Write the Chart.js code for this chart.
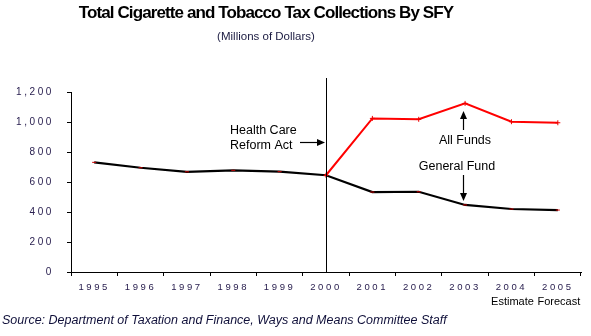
<!DOCTYPE html>
<html>
<head>
<meta charset="utf-8">
<script src="https://cdn.jsdelivr.net/npm/chart.js@4"></script>
<style>
  html, body { margin: 0; padding: 0; background: #fff; }
  #wrap { width: 591px; height: 336px; position: relative; }
</style>
</head>
<body>
<div id="wrap"><canvas id="myChart" width="591" height="336"></canvas></div>
<script>
const years = ['1995', '1996', '1997', '1998', '1999', '2000', '2001', '2002', '2003', '2004', '2005'];
const generalFund = [731, 695, 668, 678, 669, 645, 533, 535, 447, 420, 413];
const allFunds = [null, null, null, null, null, 645, 1024, 1018, 1124, 1002, 995];
const yTicks = [0, 200, 400, 600, 800, 1000, 1200];
const yearNotes = { '2004': 'Estimate', '2005': 'Forecast' };

const FONT = '"Liberation Sans", Arial, sans-serif';

function arrow(ctx, x1, y1, x2, y2) {
    const a = Math.atan2(y2 - y1, x2 - x1), len = 8, w = 3.5;
    const bx = x2 - len * Math.cos(a), by = y2 - len * Math.sin(a);
    ctx.beginPath();
    ctx.moveTo(x1, y1);
    ctx.lineTo(bx, by);
    ctx.stroke();
    ctx.beginPath();
    ctx.moveTo(x2, y2);
    ctx.lineTo(bx - w * Math.sin(a), by + w * Math.cos(a));
    ctx.lineTo(bx + w * Math.sin(a), by - w * Math.cos(a));
    ctx.closePath();
    ctx.fill();
}

function text(ctx, str, x, y, font, align, spacing, color) {
    ctx.font = font;
    ctx.letterSpacing = spacing;
    ctx.textAlign = align;
    ctx.textBaseline = 'middle';
    ctx.fillStyle = color || '#000';
    ctx.fillText(str, x, y);
}

// spaced-out digits on both axes
const tickSpacing = {
    id: 'tickSpacing',
    beforeDraw(chart) { chart.ctx.letterSpacing = '2.6px'; }
};

const extras = {
    id: 'extras',
    afterDraw(chart) {
        const ctx = chart.ctx, x = chart.scales.x, area = chart.chartArea;
        ctx.save();

        // Health Care Reform Act marker at SFY 2000
        const x2000 = x.getPixelForValue(years.indexOf('2000'));
        ctx.strokeStyle = '#000';
        ctx.lineWidth = 1;
        ctx.beginPath();
        ctx.moveTo(Math.round(x2000) + 0.5, area.top - 14);
        ctx.lineTo(Math.round(x2000) + 0.5, area.bottom);
        ctx.stroke();

        text(ctx, 'Total Cigarette and Tobacco Tax Collections By SFY', 266, 13, 'bold 17px ' + FONT, 'center', '-0.9px');
        text(ctx, '(Millions of Dollars)', 266, 37, '11.5px ' + FONT, 'center', '0px', '#1a1a40');

        // year notes under the last two categories
        Object.keys(yearNotes).forEach(k => {
            text(ctx, yearNotes[k], x.getPixelForValue(years.indexOf(k)) + 1, 302, '11px ' + FONT, 'center', '0px');
        });

        text(ctx, 'Source: Department of Taxation and Finance, Ways and Means Committee Staff',
            2, 321, 'italic 12.5px ' + FONT, 'left', '0px', '#10103a');

        // annotations
        text(ctx, 'Health Care', 230, 131, '12.5px ' + FONT, 'left', '0px');
        text(ctx, 'Reform Act', 230, 146, '12.5px ' + FONT, 'left', '0px');
        text(ctx, 'All Funds', 465, 141, '12.5px ' + FONT, 'center', '0px');
        text(ctx, 'General Fund', 457, 167, '12.5px ' + FONT, 'center', '0px');

        ctx.fillStyle = '#000';
        ctx.lineWidth = 1.2;
        arrow(ctx, 300, 142.5, x2000 - 1, 142.5);
        arrow(ctx, 463.5, 130, 463.5, 111);
        arrow(ctx, 463.5, 175, 463.5, 201);

        ctx.restore();
    }
};

const ctx = document.getElementById('myChart');
new Chart(ctx, {
    type: 'line',
    data: {
        labels: years,
        datasets: [{
            label: 'All Funds',
            data: allFunds,
            borderColor: '#ff0000',
            borderWidth: 2,
            pointStyle: 'cross',
            pointRadius: 2.5,
            pointBorderColor: '#ee0000',
            pointBorderWidth: 1,
            tension: 0
        }, {
            label: 'General Fund',
            data: generalFund,
            borderColor: '#000000',
            borderWidth: 2.2,
            pointStyle: 'line',
            pointRadius: 2,
            pointBorderColor: '#cc0000',
            pointBorderWidth: 1,
            tension: 0
        }]
    },
    options: {
        responsive: false,
        animation: false,
        layout: { padding: { top: 92, left: 0, right: 10, bottom: 34 } },
        plugins: {
            legend: { display: false },
            tooltip: { enabled: false }
        },
        scales: {
            x: {
                offset: true,
                grid: { display: true, drawOnChartArea: false, offset: true, tickLength: 4, color: '#000' },
                border: { display: true, color: '#000', width: 1 },
                ticks: { font: { family: FONT, size: 9.5 }, color: '#2a2050', padding: 6, maxRotation: 0, autoSkip: false },
                afterFit(scale) { scale.height = 30; }
            },
            y: {
                min: 0,
                max: 1200,
                afterBuildTicks(scale) { scale.ticks = yTicks.map(v => ({ value: v })); },
                grid: { display: true, drawOnChartArea: false, tickLength: 4, color: '#000' },
                border: { display: true, color: '#000', width: 1 },
                ticks: {
                    font: { family: FONT, size: 10 },
                    color: '#2a2050',
                    padding: 13,
                    callback: v => v.toLocaleString('en-US')
                },
                afterFit(scale) { scale.width = 71; }
            }
        }
    },
    plugins: [tickSpacing, extras]
});
</script>
</body>
</html>
